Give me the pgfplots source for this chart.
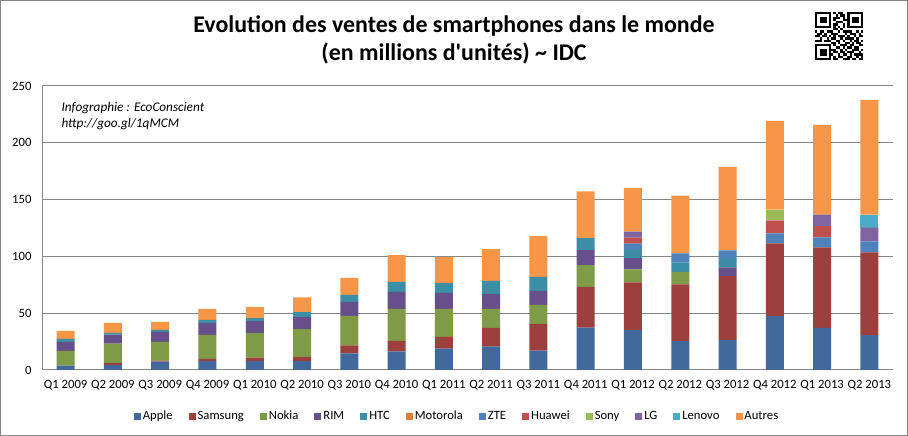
\documentclass[border=0pt]{standalone}
\usepackage{pgfplots}
\pgfplotsset{compat=1.18}
\usepackage{pgfplotstable}
\usepackage{fontspec}
\setmainfont{Carlito}
\definecolor{cApple}{HTML}{41699C}
\definecolor{cSamsung}{HTML}{9C3F3D}
\definecolor{cNokia}{HTML}{7F9B48}
\definecolor{cRIM}{HTML}{67508A}
\definecolor{cHTC}{HTML}{3B8EA5}
\definecolor{cMotorola}{HTML}{DA8137}
\definecolor{cZTE}{HTML}{4F81BD}
\definecolor{cHuawei}{HTML}{C0504D}
\definecolor{cSony}{HTML}{9BBB59}
\definecolor{cLG}{HTML}{8064A2}
\definecolor{cLenovo}{HTML}{4BACC6}
\definecolor{cAutres}{HTML}{F79646}
\definecolor{gridgray}{HTML}{868686}

\pgfplotstableread{
x  Apple Samsung Nokia RIM  HTC  Motorola ZTE Huawei Sony LG   Lenovo Autres
0  3.8   0       13.0  7.9  2.6  0        0   0      0    0    0      7.1
1  4.4   1.8     17.0  8.0  1.4  0        0   0      0    0    0      8.9
2  7.4   0.8     16.5  8.8  1.8  0        0   0      0    0    0      7.1
3  7.9   1.8     21.2  10.6 2.6  0        0   0      0    0    0      9.7
4  7.9   2.9     21.7  10.5 2.6  0        0   0      0    0    0      9.7
5  7.9   3.5     24.6  10.5 4.4  0        0   0      0    0    0      13.1
6  14.6  7.0     26.1  12.2 6.2  0        0   0      0    0    0      14.9
7  16.4  9.3     28.1  14.9 8.8  0        0   0      0    0    0      23.7
8  18.7  10.5    24.6  14.0 8.8  0        0   0      0    0    0      22.8
9  20.5  16.6    16.7  13.2 11.4 0        0   0      0    0    0      28.0
10 17.0  23.7    16.7  12.3 12.3 0        0   0      0    0    0      35.9
11 37.4  35.7    19.3  13.2 10.5 0        0   0      0    0    0      41.2
12 35.4  41.8    11.4  9.9  7.0  0        5.8 5.3    0    5.2  0      38.6
13 25.4  50.0    10.9  0    8.4  0        7.9 0      0    0    0      50.9
14 26.6  56.1    0     7.6  7.3  0        7.6 0      0    0    0      73.6
15 47.4  64.0    0     0    0    0        8.8 11.4   9.6  0    0      78.1
16 37.1  70.8    0     0    0    0        8.8 9.9    0    10.2 0      79.0
17 30.7  72.8    0     0    0    0        9.7 0      0    12.2 11.4   100.9
}\data

% QR-like decoration
\newcount\qrc
\def\qrrow#1#2{\def\qrr{#1}\qrc=0 \qrloop#2\relax}
\def\qrloop#1{\ifx#1\relax\else
  \ifnum#1=1 \fill[black] ({815+\the\qrc*2.3},{424-(\qrr+1)*2.3}) rectangle ++(2.3,2.3);\fi
  \advance\qrc by 1 \expandafter\qrloop\fi}

\begin{document}
\begin{tikzpicture}[x=1bp,y=1bp]
\draw[draw=gridgray,fill=white,line width=1bp] (0.5,0.5) rectangle (907.5,435.5);

\begin{axis}[
  at={(42bp,66bp)}, anchor=south west,
  scale only axis, width=851bp, height=284bp,
  ybar stacked, bar width=18bp,
  xmin=-0.5, xmax=17.5, ymin=0, ymax=250,
  ytick={0,50,...,250},
  xtick={0,...,17},
  xticklabels={Q1 2009,Q2 2009,Q3 2009,Q4 2009,Q1 2010,Q2 2010,Q3 2010,Q4 2010,Q1 2011,Q2 2011,Q3 2011,Q4 2011,Q1 2012,Q2 2012,Q3 2012,Q4 2012,Q1 2013,Q2 2013},
  axis x line*=bottom, axis y line*=left,
  axis line style={-,draw=gridgray,line width=1bp},
  major tick length=0pt,
  ymajorgrids, grid style={draw=gridgray,line width=1bp},
  /pgf/number format/assume math mode=true,
  tick label style={font=\fontsize{12.7}{14}\selectfont, text=black},
  yticklabel style={xshift=-7bp},
  xticklabel style={yshift=-7bp},
  legend columns=12,
  legend style={at={(0.4877,-0.162)}, anchor=center, draw=none, fill=none,
    font=\fontsize{12.7}{14}\selectfont,
    /tikz/every even column/.append style={column sep=14bp}},
  legend image code/.code={\fill[#1] (0bp,-3.5bp) rectangle (7bp,3.5bp);},
]
\addplot[fill=cApple,draw=none] table[x=x,y=Apple]{\data};
\addplot[fill=cSamsung,draw=none] table[x=x,y=Samsung]{\data};
\addplot[fill=cNokia,draw=none] table[x=x,y=Nokia]{\data};
\addplot[fill=cRIM,draw=none] table[x=x,y=RIM]{\data};
\addplot[fill=cHTC,draw=none] table[x=x,y=HTC]{\data};
\addplot[fill=cMotorola,draw=none] table[x=x,y=Motorola]{\data};
\addplot[fill=cZTE,draw=none] table[x=x,y=ZTE]{\data};
\addplot[fill=cHuawei,draw=none] table[x=x,y=Huawei]{\data};
\addplot[fill=cSony,draw=none] table[x=x,y=Sony]{\data};
\addplot[fill=cLG,draw=none] table[x=x,y=LG]{\data};
\addplot[fill=cLenovo,draw=none] table[x=x,y=Lenovo]{\data};
\addplot[fill=cAutres,draw=none] table[x=x,y=Autres]{\data};
\legend{Apple,Samsung,Nokia,RIM,HTC,Motorola,ZTE,Huawei,Sony,LG,Lenovo,Autres}
\end{axis}

\node[anchor=base, font=\bfseries\fontsize{24}{28}\selectfont] at (454,403) {Evolution des ventes de smartphones dans le monde};
\node[anchor=base, font=\bfseries\fontsize{24}{28}\selectfont] at (454,375) {(en millions d\textquotesingle unités) \textasciitilde{} IDC};
\node[anchor=base west, font=\itshape\fontsize{13.3}{15}\selectfont] at (58,324) {Infographie : EcoConscient};
\node[anchor=base west, font=\itshape\fontsize{13.3}{15}\selectfont] at (58,308) {http://goo.gl/1qMCM};

\qrrow{0}{111111101011001111111}
\qrrow{1}{100000100101101000001}
\qrrow{2}{101110101110101011101}
\qrrow{3}{101110101000111011101}
\qrrow{4}{101110100111001011101}
\qrrow{5}{100000101100101000001}
\qrrow{6}{111111101010101111111}
\qrrow{7}{000000001101000000000}
\qrrow{8}{101101110010111100101}
\qrrow{9}{011010011100010111010}
\qrrow{10}{110110101011101001011}
\qrrow{11}{001001011001011110100}
\qrrow{12}{111011100110100101101}
\qrrow{13}{000000011010011010110}
\qrrow{14}{111111101001110110011}
\qrrow{15}{100000100110101101100}
\qrrow{16}{101110111001010011101}
\qrrow{17}{101110101101101110010}
\qrrow{18}{101110110010110101111}
\qrrow{19}{100000101011001100101}
\qrrow{20}{111111101100111011011}
\end{tikzpicture}
\end{document}
